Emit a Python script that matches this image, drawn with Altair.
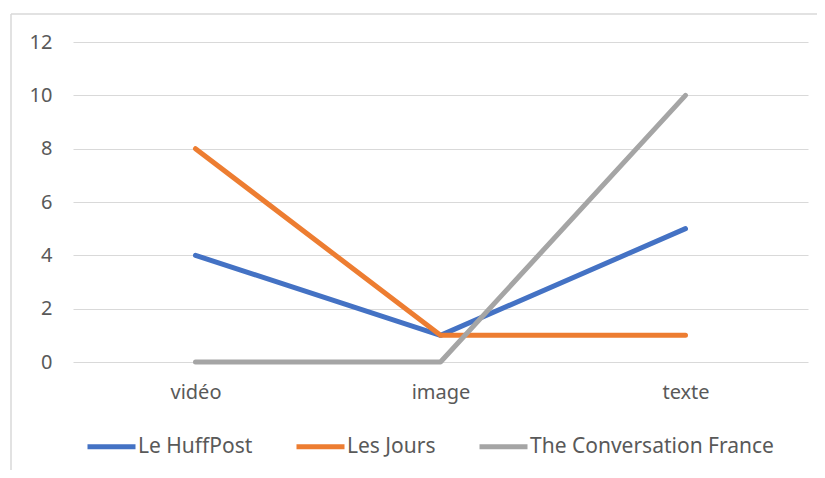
import altair as alt
import pandas as pd

categories = ["vidéo", "image", "texte"]
series_names = ["Le HuffPost", "Les Jours", "The Conversation France"]
huffpost = [4, 1, 5]
les_jours = [8, 1, 1]
conversation = [0, 0, 10]
colors = ["#4472C4", "#ED7D31", "#A5A5A5"]
y_ticks = [0, 2, 4, 6, 8, 10, 12]

rows = []
for name, vals in zip(series_names, [huffpost, les_jours, conversation]):
    for i, (c, v) in enumerate(zip(categories, vals)):
        rows.append({"cat": c, "serie": name, "val": v, "ord": i})
df = pd.DataFrame(rows)

FONT = "Noto Sans"
GRAY_TXT = "#595959"

lines = alt.Chart(df).mark_line(strokeWidth=5, strokeCap="round", strokeJoin="round").encode(
    x=alt.X("cat:N", sort=categories, title=None,
            scale=alt.Scale(type="point", padding=0.5),
            axis=alt.Axis(labelAngle=0, domain=False, ticks=False, grid=False,
                          labelPadding=20, labelBaseline="top")),
    y=alt.Y("val:Q", title=None,
            scale=alt.Scale(domain=[0, 12], nice=False),
            axis=alt.Axis(values=y_ticks, domain=False, ticks=False, grid=True,
                          gridColor="#D9D9D9", gridWidth=1.2, labelPadding=21)),
    color=alt.Color("serie:N", sort=series_names,
                    scale=alt.Scale(domain=series_names, range=colors),
                    legend=alt.Legend(title=None, orient="none", direction="horizontal",
                                      legendX=12, legendY=378,
                                      symbolType="stroke", symbolSize=2304,
                                      symbolStrokeWidth=5, labelOffset=0,
                                      columnPadding=33)),
    order=alt.Order("ord:Q"),
)

frame_df = pd.DataFrame({"k": [0]})
left_border = alt.Chart(frame_df).mark_rule(color="#D9D9D9", strokeWidth=1.5).encode(
    x=alt.value(-62), y=alt.value(-28), y2=alt.value(440))
top_border = alt.Chart(frame_df).mark_rule(color="#D9D9D9", strokeWidth=1.5).encode(
    x=alt.value(-62), x2=alt.value(760), y=alt.value(-28))

chart = alt.layer(left_border, top_border, lines).properties(
    width=735, height=320,
    autosize=alt.AutoSizeParams(type="none"),
    padding={"left": 65, "top": 34, "right": 9, "bottom": 108},
).configure_view(stroke=None).configure_axis(
    labelFont=FONT, labelFontSize=20, labelColor=GRAY_TXT,
).configure_legend(
    labelFont=FONT, labelFontSize=21, labelColor=GRAY_TXT, labelLimit=400,
)

chart.save("out.html", embed_options={"renderer": "svg", "actions": False})
